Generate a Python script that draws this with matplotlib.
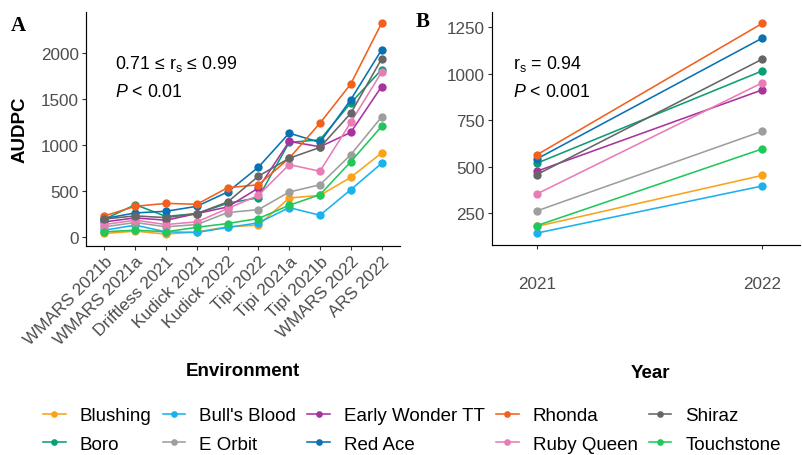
import matplotlib
matplotlib.use("Agg")
import matplotlib.pyplot as plt
from matplotlib.lines import Line2D

plt.rcParams['font.family'] = ['Liberation Sans', 'DejaVu Sans']
plt.rcParams['mathtext.fontset'] = 'custom'
plt.rcParams['mathtext.rm'] = 'Liberation Sans'
plt.rcParams['mathtext.it'] = 'Liberation Sans:italic'
plt.rcParams['mathtext.default'] = 'regular'

# ---------------- data ----------------
environments = ["WMARS 2021b", "WMARS 2021a", "Driftless 2021", "Kudick 2021",
                "Kudick 2022", "Tipi 2022", "Tipi 2021a", "Tipi 2021b",
                "WMARS 2022", "ARS 2022"]
years = ["2021", "2022"]
cultivars = ["Blushing", "Boro", "Bull's Blood", "E Orbit", "Early Wonder TT",
             "Red Ace", "Rhonda", "Ruby Queen", "Shiraz", "Touchstone"]
colors = {"Blushing": "#F9A31B", "Boro": "#0A9E74", "Bull's Blood": "#1AB2EC",
          "E Orbit": "#9E9E9E", "Early Wonder TT": "#A8339F", "Red Ace": "#0A71B3",
          "Rhonda": "#F2601E", "Ruby Queen": "#E87DB5", "Shiraz": "#666666",
          "Touchstone": "#22C75C"}

audpc_env = {
    "Blushing":        [43, 68, 36, 60, 115, 133, 428, 457, 652, 917],
    "Boro":            [198, 356, 228, 259, 370, 432, 1032, 1061, 1460, 1822],
    "Bull's Blood":    [79, 133, 60, 54, 108, 158, 324, 241, 518, 804],
    "E Orbit":         [115, 162, 115, 140, 270, 302, 493, 572, 898, 1308],
    "Early Wonder TT": [169, 212, 187, 259, 331, 536, 1043, 985, 1141, 1638],
    "Red Ace":         [205, 266, 284, 338, 493, 763, 1133, 1032, 1496, 2036],
    "Rhonda":          [234, 338, 370, 360, 540, 572, 860, 1241, 1667, 2326],
    "Ruby Queen":      [140, 187, 140, 169, 313, 457, 791, 719, 1250, 1793],
    "Shiraz":          [200, 234, 215, 259, 385, 665, 860, 978, 1348, 1938],
    "Touchstone":      [61, 79, 61, 110, 151, 205, 349, 464, 822, 1206],
}
audpc_year = {
    "Blushing":        [180, 454],
    "Boro":            [519, 1015],
    "Bull's Blood":    [144, 397],
    "E Orbit":         [263, 691],
    "Early Wonder TT": [476, 913],
    "Red Ace":         [542, 1191],
    "Rhonda":          [564, 1270],
    "Ruby Queen":      [354, 951],
    "Shiraz":          [458, 1078],
    "Touchstone":      [184, 596],
}
yticks_a = [0, 500, 1000, 1500, 2000]
yticks_b = [250, 500, 750, 1000, 1250]

# ---------------- figure ----------------
W, H = 803, 456
fig = plt.figure(figsize=(W / 100, H / 100), dpi=100)

def fx(px):
    return px / W

def fy(py):
    return 1 - py / H

axA = fig.add_axes([fx(86), fy(246.7), fx(400) - fx(86), fy(13) - fy(246.7)])
axB = fig.add_axes([fx(491.7), fy(246), fx(800) - fx(491.7), fy(13) - fy(246)])

lw = 1.15
ms = 6
xa = list(range(len(environments)))
xb = [1, 2]
for c in cultivars:
    axA.plot(xa, audpc_env[c], color=colors[c], lw=lw, marker='o', ms=ms,
             markeredgewidth=0)
    axB.plot(xb, audpc_year[c], color=colors[c], lw=lw, marker='o', ms=ms,
             markeredgewidth=0)

axA.set_xlim(-0.6, 9.6)
axA.set_ylim(-90, 2449)
axA.set_xticks(xa)
axA.set_xticklabels(environments, rotation=45, ha='right', va='top',
                    rotation_mode='anchor')
axA.set_yticks(yticks_a)

axB.set_xlim(0.8, 2.167)
axB.set_ylim(80, 1331)
axB.set_xticks(xb)
axB.set_xticklabels(years)
axB.set_yticks(yticks_b)

for ax in (axA, axB):
    for s in ("top", "right"):
        ax.spines[s].set_visible(False)
    for s in ("left", "bottom"):
        ax.spines[s].set_linewidth(0.85)
        ax.spines[s].set_color("black")
    ax.tick_params(axis='both', length=3.2, width=0.8, color='#333333',
                   labelcolor='#4D4D4D', labelsize=12.3, pad=2)
axB.tick_params(axis='x', pad=19)

# axis titles
fig.text(fx(20), fy(130), "AUDPC", rotation=90, ha='center', va='center',
         fontsize=13.5, fontweight='bold')
fig.text(fx(243), fy(372), "Environment", ha='center', va='center',
         fontsize=13.5, fontweight='bold')
fig.text(fx(650), fy(374), "Year", ha='center', va='center',
         fontsize=13.5, fontweight='bold')

# panel letters
fig.text(fx(11), fy(26), "A", ha='left', va='center', fontsize=15,
         fontweight='bold', family=['Liberation Serif', 'DejaVu Serif'])
fig.text(fx(416), fy(22), "B", ha='left', va='center', fontsize=15,
         fontweight='bold', family=['Liberation Serif', 'DejaVu Serif'])

# annotations
ann = 12.8
fig.text(fx(115), fy(69), "0.71 \u2264 r$_{s}$ \u2264 0.99", ha='left',
         va='baseline', fontsize=ann)
fig.text(fx(115), fy(97), "$\\mathit{P}$ < 0.01", ha='left', va='baseline',
         fontsize=ann)
fig.text(fx(513), fy(69), "r$_{s}$ = 0.94", ha='left', va='baseline',
         fontsize=ann)
fig.text(fx(513), fy(97), "$\\mathit{P}$ < 0.001", ha='left', va='baseline',
         fontsize=ann)

# legend
handles = [Line2D([0], [0], color=colors[c], lw=lw, marker='o', ms=4.8,
                  markeredgewidth=0) for c in cultivars]
fig.legend(handles, cultivars, ncol=5, loc='center',
           bbox_to_anchor=(fx(412), fy(431)), frameon=False, fontsize=13.5,
           handlelength=1.2, handletextpad=0.75, columnspacing=0.6,
           labelspacing=0.6, borderaxespad=0, borderpad=0)

fig.savefig("out.png", dpi=100)
